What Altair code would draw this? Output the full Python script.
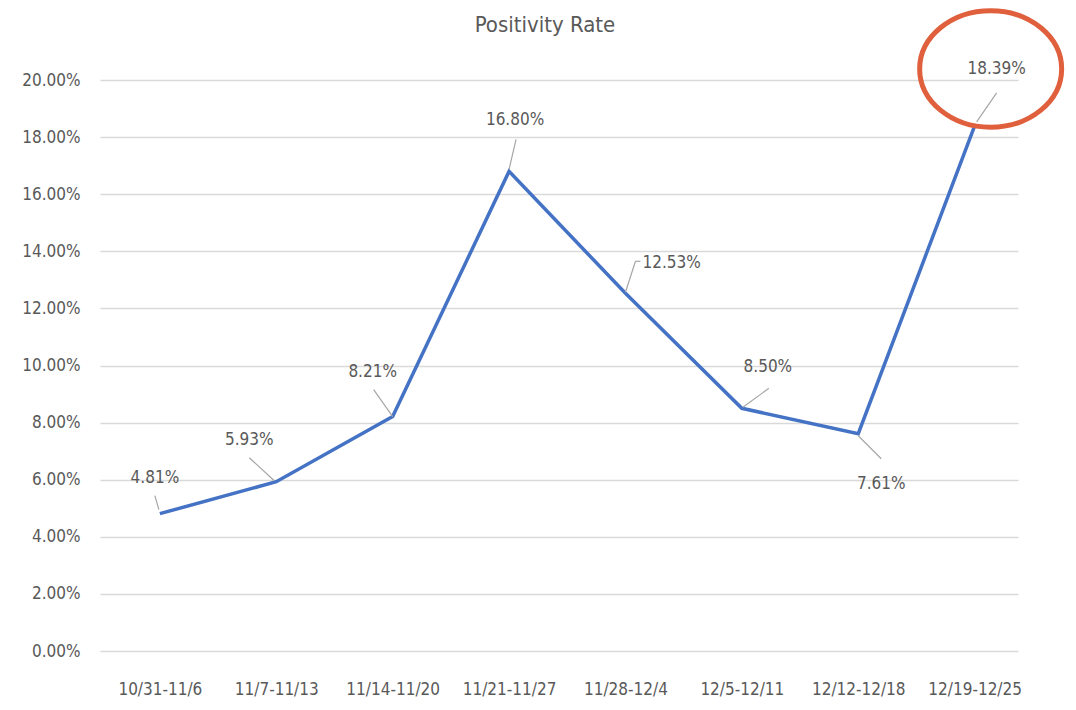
import altair as alt
import pandas as pd

weeks = ["10/31-11/6", "11/7-11/13", "11/14-11/20", "11/21-11/27",
         "11/28-12/4", "12/5-12/11", "12/12-12/18", "12/19-12/25"]
rates = [0.0481, 0.0593, 0.0821, 0.1680, 0.1253, 0.0850, 0.0761, 0.1839]
labels = ["4.81%", "5.93%", "8.21%", "16.80%", "12.53%", "8.50%", "7.61%", "18.39%"]
y_ticks = [0.0, 0.02, 0.04, 0.06, 0.08, 0.10, 0.12, 0.14, 0.16, 0.18, 0.20]

df = pd.DataFrame({"week": weeks, "rate": rates, "label": labels})

FONT = "Liberation Sans Narrow, DejaVu Sans Condensed, sans-serif"
GRAY = "#595959"
BLUE = "#4472C4"

# styling: label offsets (dx, dy, align) and leader-line segments (pixel offsets from the point)
label_style = [(-5, -36, "center"), (-27, -42, "center"), (-20, -45, "center"),
               (6, -51, "center"), (17, -30, "left"), (26, -41, "center"),
               (23, 50, "center"), (22, -57, "center")]
leader_style = [[(-1, -4, -5, -18)], [(-2, -1, -27, -24)], [(0, 0, -19, -27)],
                [(0, -2, 7, -32)], [(0, -1, 10, -32), (10, -32, 15, -32)],
                [(1, -1, 27, -20)], [(0, 2, 23, 25)], [(2, -4, 22, -33)]]

xs = alt.Scale(type="point", domain=weeks, padding=0.4434, align=0.58)
ys = alt.Scale(domain=[0, 0.2], nice=False, zero=True)

base = alt.Chart(df).encode(
    x=alt.X("week:N", scale=xs, sort=weeks,
            axis=alt.Axis(title=None, labelAngle=0, labelPadding=30, labelFontSize=17,
                          labelFont=FONT, labelColor=GRAY, grid=False, domain=False, ticks=False)),
    y=alt.Y("rate:Q", scale=ys,
            axis=alt.Axis(title=None, values=y_ticks, format=".2%", labelPadding=20,
                          labelFontSize=17, labelFont=FONT, labelColor=GRAY,
                          grid=True, gridColor="#D9D9D9", gridWidth=1.5,
                          domain=False, ticks=False)),
)

layers = [base.mark_line(color=BLUE, strokeWidth=3.5)]

for i, w in enumerate(weeks):
    sub = base.transform_filter(alt.datum.week == w)
    for (x1, y1, x2, y2) in leader_style[i]:
        layers.append(
            sub.mark_rule(color="#A6A6A6", strokeWidth=1.2,
                          xOffset=x1, yOffset=y1, x2Offset=x2, y2Offset=y2)
            .encode(x2="week:N", y2="rate:Q")
        )
    dx, dy, al = label_style[i]
    layers.append(
        sub.mark_text(dx=dx, dy=dy, align=al, baseline="middle", fontSize=17,
                      font=FONT, color=GRAY).encode(text="label:N")
    )

# red annotation ellipse around the last label
last = base.transform_filter(alt.datum.week == weeks[-1])
ellipse_path = "M -1 0 A 1 0.82 0 1 0 1 0 A 1 0.82 0 1 0 -1 0 Z"
layers.append(
    last.mark_point(shape=ellipse_path, size=142 * 142, filled=False,
                    stroke="#E0603E", strokeWidth=5, opacity=1,
                    xOffset=16, yOffset=-57)
)

chart = alt.layer(*layers).properties(
    width=918, height=571,
    title=alt.TitleParams("Positivity Rate", fontSize=22, font=FONT, color=GRAY,
                          fontWeight="normal", anchor="middle", dx=-14, offset=-36),
    autosize=alt.AutoSizeParams(type="none"),
    padding={"left": 92, "top": 72, "right": 50, "bottom": 50},
).configure_view(stroke=None)

chart.save("out.html", embed_options={"renderer": "svg", "actions": False})
